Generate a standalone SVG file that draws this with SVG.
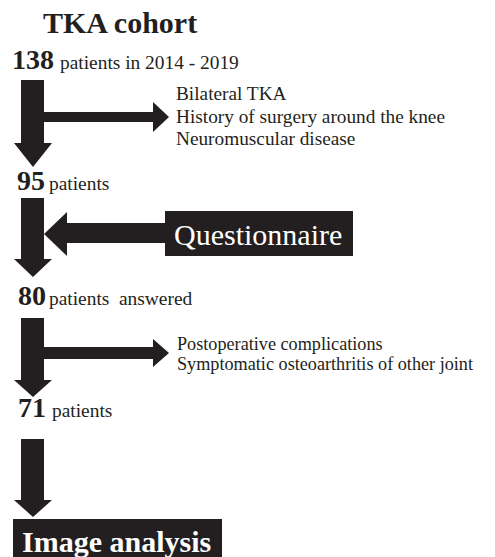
<svg xmlns="http://www.w3.org/2000/svg" width="495" height="557" viewBox="0 0 495 557">
<style>
text{font-family:"Liberation Serif","Times New Roman",serif;fill:#231f20}
.num{font-weight:bold;font-size:28px}
.lbl{font-size:19.4px}
.ex{font-size:19.3px}
.ex2{font-size:18.2px}
.ttl{font-weight:bold;font-size:30px}
.ar{fill:#231f20}
.box{fill:#231f20}
.wt{fill:#fff;font-size:30px}
</style>
<rect width="495" height="557" fill="#fff"/>
<g id="title"><text class="ttl" x="43" y="33">TKA cohort</text></g>
<g id="n138"><text x="12" y="69"><tspan class="num">138</tspan><tspan class="lbl" dx="6">patients in 2014 - 2019</tspan></text></g>
<g id="excl1"><text class="ex" x="176" y="100">Bilateral TKA</text><text class="ex" x="176" y="123">History of surgery around the knee</text><text class="ex" x="176" y="145">Neuromuscular disease</text></g>
<g id="n95"><text x="17" y="190"><tspan class="num">95</tspan><tspan class="lbl" dx="4">patients</tspan></text></g>
<g id="questionnaire"><rect class="box" x="165" y="211" width="188" height="45"/><text class="wt" x="174" y="245">Questionnaire</text></g>
<g id="n80"><text x="18" y="305"><tspan class="num">80</tspan><tspan class="lbl" dx="3">patients&#160; answered</tspan></text></g>
<g id="excl2"><text class="ex2" x="177" y="350">Postoperative complications</text><text class="ex2" x="177" y="370">Symptomatic osteoarthritis of other joint</text></g>
<g id="n71"><text x="18" y="417"><tspan class="num">71</tspan><tspan class="lbl" dx="6">patients</tspan></text></g>
<g id="image"><rect class="box" x="13" y="519" width="209" height="40"/><text class="wt" x="22" y="552" font-weight="bold">Image analysis</text></g>
<g id="connectors">
<polygon class="ar" points="21,80 44,80 44,143 52,143 33,167 14,143 21,143"/>
<polygon class="ar" points="44,112 153,112 153,102 169,117 153,132 153,122 44,122"/>
<polygon class="ar" points="21,198 44,198 44,259 52,259 33,277 14,259 21,259"/>
<polygon class="ar" points="165,223 67,223 67,212 44,234 67,256 67,243 165,243"/>
<polygon class="ar" points="21,318 44,318 44,380 52,380 33,397 14,380 21,380"/>
<polygon class="ar" points="44,347 153,347 153,339 169,353 153,367 153,359 44,359"/>
<polygon class="ar" points="21,439 44,439 44,500 52,500 33,517 14,500 21,500"/>
</g>
</svg>
